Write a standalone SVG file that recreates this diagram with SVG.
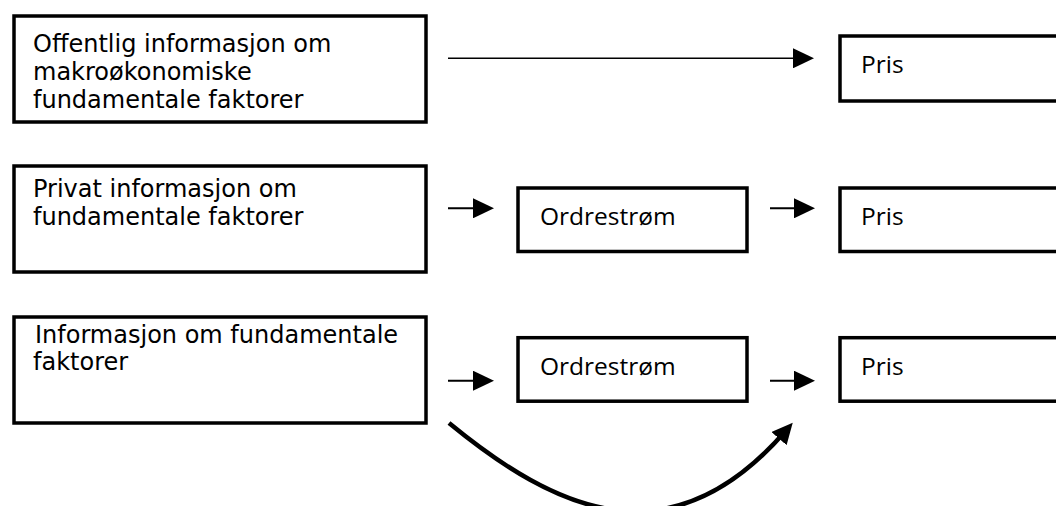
<svg xmlns="http://www.w3.org/2000/svg" width="1056" height="506" viewBox="0 0 1056 506">
<style>
.box{fill:#fff;stroke:#000;stroke-width:3.5}
.lt{font-family:"DejaVu Sans",Verdana,sans-serif;font-size:24px;fill:#000}
.rt{font-family:"Open Sans","Noto Sans",sans-serif;font-size:24.5px;fill:#000}
.ar{stroke:#000;stroke-width:2;fill:none}
.cv{stroke:#000;stroke-width:4.5;fill:none}
</style>
<defs>
<marker id="ah" markerUnits="userSpaceOnUse" markerWidth="22" markerHeight="20" refX="11" refY="10" orient="auto">
<path d="M0,0 L21,10 L0,20 z" fill="#000"/>
</marker>
</defs>
<rect width="1056" height="506" fill="#fff"/>
<g id="n-offentlig">
<rect class="box" x="14" y="16" width="412" height="106"/>
<text class="lt"><tspan x="33" y="51.5">Offentlig informasjon om</tspan><tspan x="33" y="80">makroøkonomiske</tspan><tspan x="33" y="108">fundamentale faktorer</tspan></text>
</g>
<g id="n-pris1">
<rect class="box" x="840" y="36" width="240" height="65"/>
<text class="rt" x="861" y="73">Pris</text>
</g>
<g id="n-privat">
<rect class="box" x="14" y="166" width="412" height="106"/>
<text class="lt"><tspan x="33" y="196.5">Privat informasjon om</tspan><tspan x="33" y="225">fundamentale faktorer</tspan></text>
</g>
<g id="n-ordre2">
<rect class="box" x="518" y="188" width="229" height="63.5"/>
<text class="rt" x="540" y="224.5">Ordrestrøm</text>
</g>
<g id="n-pris2">
<rect class="box" x="840" y="188" width="240" height="63.5"/>
<text class="rt" x="861" y="224.5">Pris</text>
</g>
<g id="n-info">
<rect class="box" x="14" y="317" width="412" height="106"/>
<text class="lt"><tspan x="35" y="342.5">Informasjon om fundamentale</tspan><tspan x="33" y="370">faktorer</tspan></text>
</g>
<g id="n-ordre3">
<rect class="box" x="518" y="337.7" width="229" height="63.5"/>
<text class="rt" x="540" y="374.5">Ordrestrøm</text>
</g>
<g id="n-pris3">
<rect class="box" x="840" y="337.7" width="240" height="63.5"/>
<text class="rt" x="861" y="374.5">Pris</text>
</g>
<g id="connectors">
<line class="ar" x1="448" y1="58.3" x2="804" y2="58.3" marker-end="url(#ah)" style="stroke-width:1.6"/>
<line class="ar" x1="448" y1="208.3" x2="484" y2="208.3" marker-end="url(#ah)"/>
<line class="ar" x1="770" y1="208.3" x2="805" y2="208.3" marker-end="url(#ah)"/>
<line class="ar" x1="448" y1="380.7" x2="484" y2="380.7" marker-end="url(#ah)"/>
<line class="ar" x1="770" y1="380.7" x2="805" y2="380.7" marker-end="url(#ah)"/>
<path class="cv" d="M449,423 C555,510 670,565 786.2,430.3" marker-end="url(#ah)"/>
</g>
</svg>
